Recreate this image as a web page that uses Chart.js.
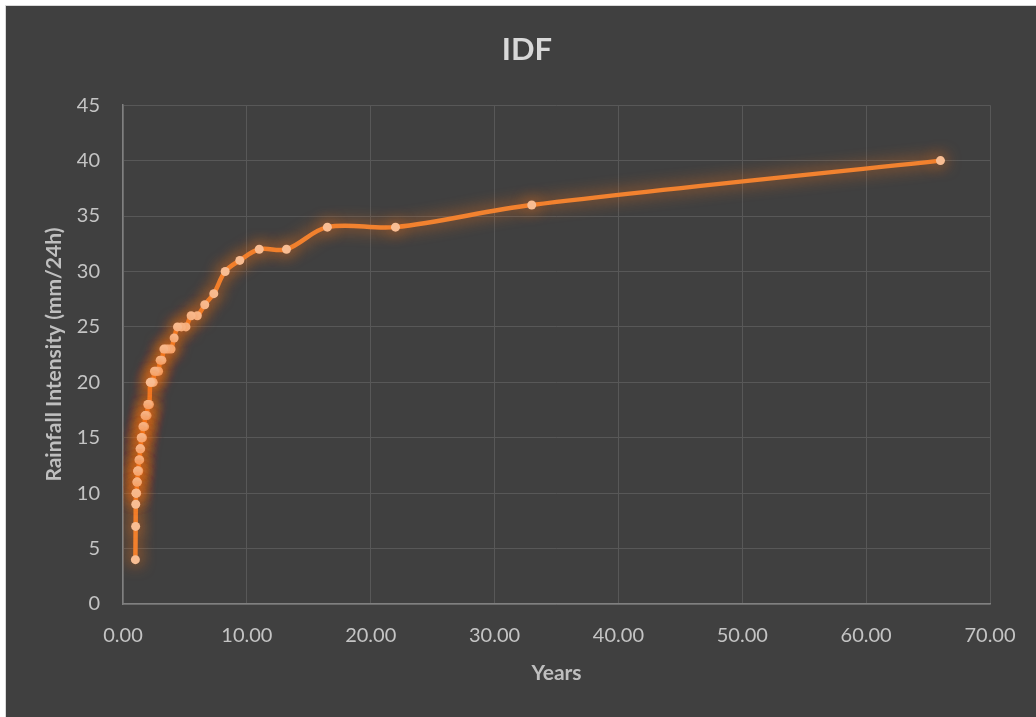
<!DOCTYPE html>
<html lang="en">
<head>
  <meta charset="UTF-8" />
  <title>IDF</title>
  <script src="https://cdn.jsdelivr.net/npm/chart.js"></script>
  <style>
    body {
      margin: 0;
      background-color: #fff;
      overflow: hidden;
    }

    #frame {
      position: absolute;
      left: 5px;
      top: 5px;
      width: 1042px;
      height: 711px;
      background-color: #404040;
      border-left: 1px solid #d9d9d9;
      border-top: 1px solid #d9d9d9;
    }

    canvas#idfChart {
      display: block;
    }
  </style>
</head>
<body>
  <div id="frame">
    <canvas id="idfChart" width="1042" height="711"></canvas>
  </div>

  <script>
    // return period (years), one per ranked record
    const years = [
      66, 33, 22, 16.5, 13.2, 11, 9.43, 8.25, 7.33, 6.6,
      6, 5.5, 5.08, 4.71, 4.4, 4.13, 3.88, 3.67, 3.47, 3.3,
      3.14, 3, 2.87, 2.75, 2.64, 2.54, 2.44, 2.36, 2.28, 2.2,
      2.13, 2.06, 2, 1.94, 1.89, 1.83, 1.78, 1.74, 1.69, 1.65,
      1.61, 1.57, 1.53, 1.5, 1.47, 1.43, 1.4, 1.38, 1.35, 1.32,
      1.29, 1.27, 1.25, 1.22, 1.2, 1.18, 1.16, 1.14, 1.12, 1.1,
      1.08, 1.06, 1.05, 1.03, 1.02, 1
    ];

    // rainfall intensity (mm/24h)
    const intensity = [
      40, 36, 34, 34, 32, 32, 31, 30, 28, 27,
      26, 26, 25, 25, 25, 24, 23, 23, 23, 23,
      22, 22, 21, 21, 21, 21, 20, 20, 20, 20,
      18, 18, 18, 17, 17, 17, 17, 16, 16, 16,
      16, 15, 15, 15, 15, 14, 14, 14, 13, 13,
      13, 12, 12, 12, 12, 12, 11, 11, 11, 10,
      10, 10, 10, 9, 7, 4
    ];

    const xTicks = [0, 10, 20, 30, 40, 50, 60, 70];
    const yTicks = [0, 5, 10, 15, 20, 25, 30, 35, 40, 45];

    const points = years.map((y, i) => ({ x: y, y: intensity[i] }));

    const fontFamily = 'Lato, "Open Sans", sans-serif';
    const tickColor = '#c4c4c4';

    // orange glow under the line and markers
    const glowPlugin = {
      id: 'glow',
      beforeDatasetsDraw(chart) {
        const ctx = chart.ctx;
        ctx.save();
        ctx.shadowColor = 'rgba(245, 115, 25, 0.95)';
        ctx.shadowBlur = 16;
      },
      afterDatasetsDraw(chart) {
        chart.ctx.restore();
      }
    };

    const ctx = document.getElementById('idfChart').getContext('2d');
    new Chart(ctx, {
      type: 'scatter',
      data: {
        datasets: [
          {
            label: 'IDF',
            data: points,
            showLine: true,
            borderColor: '#f2822f',
            borderWidth: 4.5,
            tension: 0.35,
            pointRadius: 4.5,
            pointBackgroundColor: '#f8bd93',
            pointBorderColor: '#f8bd93',
            pointBorderWidth: 0
          }
        ]
      },
      options: {
        responsive: false,
        animation: false,
        // equal side padding keeps the title centred on the frame
        layout: {
          padding: { top: 0, left: 58, right: 58, bottom: 0 }
        },
        scales: {
          x: {
            type: 'linear',
            min: 0,
            max: 70,
            afterBuildTicks: (scale) => {
              scale.ticks = xTicks.map(v => ({ value: v }));
            },
            afterFit: (scale) => { scale.height = 113; },
            grid: {
              color: '#585858',
              lineWidth: 1,
              drawTicks: false
            },
            border: { color: '#808080', width: 1.5 },
            ticks: {
              color: tickColor,
              padding: 20,
              font: { family: fontFamily, size: 20 },
              callback: (v) => Number(v).toFixed(2)
            },
            title: {
              display: true,
              text: 'Years',
              color: '#bfbfbf',
              padding: { top: 0, bottom: 31 },
              font: { family: fontFamily, size: 21, weight: 'bold' }
            }
          },
          y: {
            min: 0,
            max: 45,
            afterBuildTicks: (scale) => {
              scale.ticks = yTicks.map(v => ({ value: v }));
            },
            afterFit: (scale) => { scale.width = 59; },
            grid: {
              color: '#585858',
              lineWidth: 1,
              drawTicks: false
            },
            border: { color: '#808080', width: 1.5 },
            ticks: {
              color: tickColor,
              padding: 23,
              font: { family: fontFamily, size: 20 }
            },
            title: {
              display: true,
              text: 'Rainfall Intensity (mm/24h)',
              color: '#bfbfbf',
              padding: { top: -22, bottom: 0 },
              font: { family: fontFamily, size: 21, weight: 'bold' }
            }
          }
        },
        plugins: {
          legend: { display: false },
          tooltip: { enabled: false },
          title: {
            display: true,
            text: 'IDF',
            color: '#d9d9d9',
            padding: { top: 25, bottom: 37 },
            font: { family: fontFamily, size: 31, weight: 'bold' }
          }
        }
      },
      plugins: [glowPlugin]
    });
  </script>
</body>
</html>
